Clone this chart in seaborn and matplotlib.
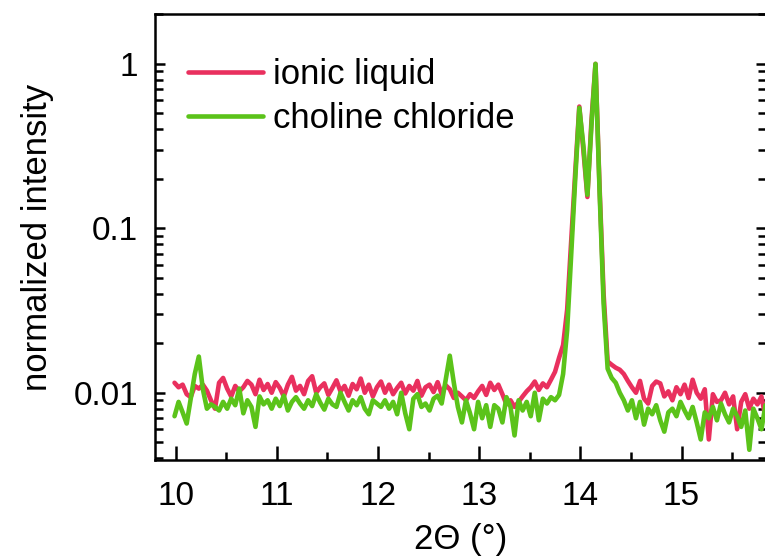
import numpy as np
import pandas as pd
import matplotlib
matplotlib.use("Agg")
import matplotlib.pyplot as plt
from matplotlib.ticker import MultipleLocator, LogLocator, NullFormatter
import seaborn as sns

# 2-theta grid (deg), step 0.04
two_theta = np.round(9.99 + 0.04 * np.arange(149), 2)

# normalized intensity
ionic_liquid = [
    0.0115, 0.0108, 0.0112, 0.0098, 0.0094, 0.0110, 0.0106, 0.0112, 0.0103, 0.0090,
    0.0080, 0.0115, 0.0123, 0.0106, 0.0095, 0.0110, 0.0102, 0.0108, 0.0118, 0.0112,
    0.0098, 0.0120, 0.0104, 0.0113, 0.0100, 0.0116, 0.0107, 0.0095, 0.0112, 0.0125,
    0.0103, 0.0110, 0.0098, 0.0118, 0.0126, 0.0100, 0.0108, 0.0114, 0.0097, 0.0107,
    0.0119, 0.0102, 0.0110, 0.0096, 0.0113, 0.0105, 0.0122, 0.0100, 0.0112, 0.0095,
    0.0108, 0.0117, 0.0100, 0.0112, 0.0098, 0.0107, 0.0115, 0.0099, 0.0110, 0.0103,
    0.0118, 0.0096, 0.0108, 0.0112, 0.0101, 0.0116, 0.0098, 0.0111, 0.0105, 0.0093,
    0.0100, 0.0095, 0.0090, 0.0098, 0.0093, 0.0102, 0.0110, 0.0097, 0.0115, 0.0104,
    0.0112, 0.0098, 0.0085, 0.0090, 0.0082, 0.0088, 0.0095, 0.0102, 0.0108, 0.0117,
    0.0104, 0.0114, 0.0108, 0.0120, 0.0134, 0.0163, 0.0195, 0.0320, 0.0850, 0.2200,
    0.5500, 0.3000, 0.1550, 0.4500, 1.0000, 0.1800, 0.0400, 0.0155, 0.0148, 0.0142,
    0.0138, 0.0130, 0.0118, 0.0108, 0.0100, 0.0118, 0.0092, 0.0086, 0.0110, 0.0117,
    0.0114, 0.0095, 0.0102, 0.0090, 0.0108, 0.0098, 0.0112, 0.0093, 0.0120, 0.0100,
    0.0092, 0.0105, 0.0052, 0.0098, 0.0088, 0.0090, 0.0100, 0.0085, 0.0095, 0.0060,
    0.0088, 0.0098, 0.0080, 0.0092, 0.0085, 0.0095, 0.0070, 0.0092, 0.0090,
]

choline_chloride = [
    0.0072, 0.0088, 0.0076, 0.0065, 0.0092, 0.0130, 0.0166, 0.0105, 0.0080, 0.0085,
    0.0082, 0.0078, 0.0088, 0.0080, 0.0092, 0.0084, 0.0106, 0.0075, 0.0090, 0.0082,
    0.0062, 0.0095, 0.0085, 0.0090, 0.0080, 0.0092, 0.0083, 0.0096, 0.0078, 0.0088,
    0.0094, 0.0086, 0.0080, 0.0090, 0.0083, 0.0098, 0.0087, 0.0079, 0.0092, 0.0085,
    0.0082, 0.0100, 0.0088, 0.0078, 0.0090, 0.0084, 0.0094, 0.0080, 0.0074, 0.0090,
    0.0086, 0.0082, 0.0090, 0.0080, 0.0088, 0.0074, 0.0100, 0.0075, 0.0060, 0.0092,
    0.0098, 0.0082, 0.0086, 0.0078, 0.0092, 0.0096, 0.0086, 0.0120, 0.0168, 0.0115,
    0.0082, 0.0066, 0.0090, 0.0075, 0.0060, 0.0088, 0.0070, 0.0084, 0.0062, 0.0084,
    0.0080, 0.0066, 0.0094, 0.0082, 0.0055, 0.0090, 0.0078, 0.0088, 0.0072, 0.0100,
    0.0068, 0.0092, 0.0086, 0.0094, 0.0090, 0.0097, 0.0130, 0.0240, 0.0700, 0.2000,
    0.5400, 0.3200, 0.1600, 0.4200, 1.0000, 0.1700, 0.0350, 0.0140, 0.0123, 0.0115,
    0.0100, 0.0090, 0.0078, 0.0090, 0.0070, 0.0088, 0.0064, 0.0080, 0.0074, 0.0084,
    0.0068, 0.0058, 0.0076, 0.0080, 0.0072, 0.0088, 0.0078, 0.0070, 0.0082, 0.0066,
    0.0052, 0.0076, 0.0070, 0.0082, 0.0068, 0.0086, 0.0074, 0.0066, 0.0080, 0.0072,
    0.0062, 0.0078, 0.0045, 0.0080, 0.0070, 0.0060, 0.0084, 0.0068, 0.0058,
]

series_names = ["ionic liquid", "choline chloride"]
series_colors = ["#e9305e", "#5bc31a"]

df = pd.DataFrame({
    "two_theta": np.concatenate([two_theta, two_theta]),
    "intensity": ionic_liquid + choline_chloride,
    "sample": [series_names[0]] * len(two_theta) + [series_names[1]] * len(two_theta),
})

sns.set_style("ticks")
plt.rcParams["font.family"] = ["Liberation Sans", "DejaVu Sans"]
for key in ["text.color", "axes.labelcolor", "xtick.color", "ytick.color", "axes.edgecolor"]:
    plt.rcParams[key] = "black"

fig = plt.figure(figsize=(7.65, 5.56), dpi=100)
ax = fig.add_axes([155 / 765, 96 / 556, 611 / 765, 446 / 556])

sns.lineplot(data=df, x="two_theta", y="intensity", hue="sample",
             palette=dict(zip(series_names, series_colors)),
             linewidth=3.3, ax=ax)
for line in ax.get_lines():
    line.set_solid_joinstyle("round")

ax.set_yscale("log")
ax.set_xlim(9.797, 15.835)
ax.set_ylim(0.0039, 2.01)

ax.set_yticks([0.01, 0.1, 1], labels=["0.01", "0.1", "1"])
ax.yaxis.set_minor_locator(LogLocator(base=10, subs=np.arange(2, 10)))
ax.yaxis.set_minor_formatter(NullFormatter())
ax.set_xticks([10, 11, 12, 13, 14, 15])
ax.xaxis.set_minor_locator(MultipleLocator(0.5))

for s in ax.spines.values():
    s.set_linewidth(1.8)
    s.set_visible(True)

ax.tick_params(axis="both", which="both", direction="in", width=1.8, labelsize=24)
ax.tick_params(axis="x", which="major", length=10, pad=15)
ax.tick_params(axis="x", which="minor", length=6)
ax.tick_params(axis="y", which="major", length=7, pad=12, right=True)
ax.tick_params(axis="y", which="minor", length=6, right=True)

ax.set_xlabel("2\u0398 (\u00b0)", fontsize=25, labelpad=8)
ax.set_ylabel("normalized intensity", fontsize=25, labelpad=14)

leg = ax.legend(loc="upper left", bbox_to_anchor=(0.054, 0.902), frameon=False,
                fontsize=25, handlelength=2.15, handletextpad=0.3,
                labelspacing=0.33, borderpad=0, borderaxespad=0)
for line in leg.get_lines():
    line.set_linewidth(3.3)

fig.savefig("out.png", dpi=100)
